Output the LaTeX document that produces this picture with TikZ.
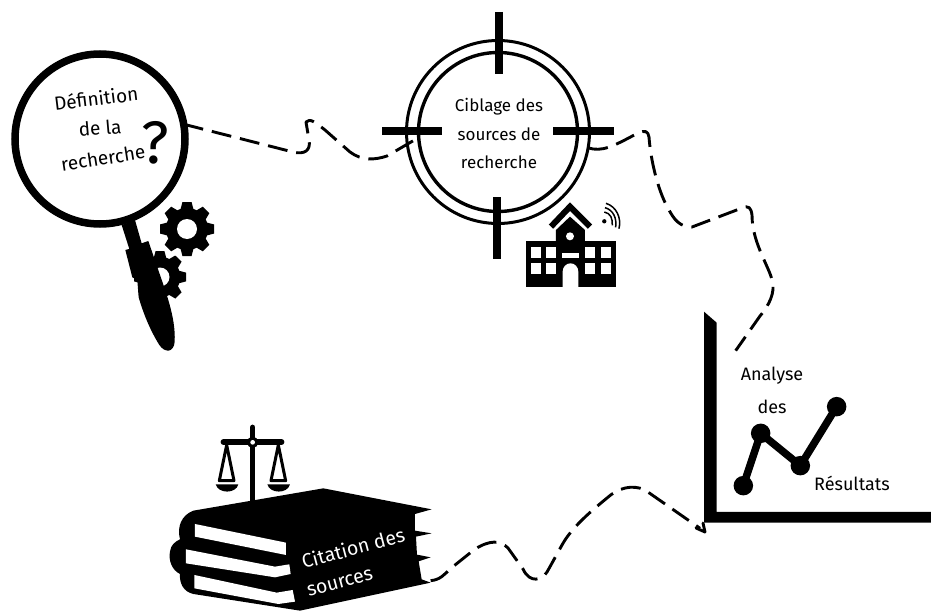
\documentclass[tikz,border=0pt]{standalone}
\usepackage{fontspec}
\setmainfont{Fira Sans}
\usetikzlibrary{calc}
\tikzset{
  link/.style={line width=2.9pt,dash pattern=on 20pt off 9pt,line join=round},
  lbl/.style={inner sep=0pt,font=\fontsize{17}{17}\selectfont,text=black},
  biglbl/.style={lbl,font=\fontsize{19}{19}\selectfont},
  chartlbl/.style={lbl,font=\fontsize{18}{18}\selectfont},
  wlbl/.style={lbl,text=white,font=\fontsize{19.5}{19.5}\selectfont},
  crosshair/.style={line width=8pt,draw=black},
  chartline/.style={line width=7.5pt,draw=black,line join=round},
  chartdot/.style={circle,fill=black,minimum size=19.5pt,inner sep=0pt},
}
\newcommand{\cogwheel}[4]{% x, y, outer radius, hole radius
  \fill[black] (#1,#2) circle ({#3*0.78});
  \foreach \a in {0,45,...,315}{
    \fill[black,shift={(#1,#2)},rotate=\a,line join=round]
      ({-#3*0.26},{#3*0.65}) -- ({-#3*0.17},{#3}) -- ({#3*0.17},{#3}) -- ({#3*0.26},{#3*0.65}) -- cycle;
  }
  \fill[white] (#1,#2) circle (#4);
}
\begin{document}
\begin{tikzpicture}[x=1pt,y=-1pt]
\useasboundingbox (0,0) rectangle (931,610);
\fill[white] (0,0) rectangle (931,610);

% ---- gears and magnifier
\cogwheel{160}{277}{26}{9.5}
\fill[white] (187,229) circle (29);
\cogwheel{187}{229}{27}{10}
\begin{scope}[shift={(0,50)},x=0.3333pt,y=-0.3333pt]
  \fill[black] (365,525) -- (405,510) -- (425,580) -- (445,573) -- (468,640)
    .. controls (495,720) and (528,800) .. (524,875)
    .. controls (522,908) and (495,910) .. (478,885)
    .. controls (450,840) and (430,790) .. (416,742)
    -- (412,690) -- (397,682) -- (376,600) -- (388,597) -- cycle;
\end{scope}
\node[circle,draw=black,line width=7.5pt,fill=white,minimum size=170pt,inner sep=0pt,outer sep=0pt] (mag) at (100,139) {};
\node[biglbl,rotate=7] (t1) at (96,98) {Définition};
\node[biglbl,rotate=5] (t2) at (100,128) {de la};
\node[biglbl,rotate=9] (t3) at (103,158) {recherche};
\node[inner sep=0pt,font=\fontsize{60}{60}\selectfont] (qm) at (155,143) {?};

% ---- target
\node[circle,draw=black,line width=3pt,minimum size=183pt,inner sep=0pt,outer sep=0pt] (ring) at (498,132) {};
\node[circle,draw=black,line width=3.4pt,minimum size=159pt,inner sep=0pt,outer sep=0pt] (inner) at (498,132) {};
\draw[crosshair] (499,12) -- (499,74);
\draw[crosshair] (382,131) -- (442,131);
\draw[crosshair] (553,131) -- (614,131);
\draw[crosshair] (497,197) -- (497,259);
\node[lbl] (t4) at (499,107) {Ciblage des};
\node[lbl] (t5) at (499,134) {sources de};
\node[lbl] (t6) at (499,162) {recherche};

% ---- school
\begin{scope}[shift={(370,30)},x=0.3333pt,y=-0.3333pt]
  \fill[white] (535,590) -- (600,515) -- (668,590) -- (668,632) -- (535,632) -- cycle;
  \fill[black] (467,632) rectangle (737,772);
  \fill[black] (558,640) -- (558,600) -- (600,560) -- (645,600) -- (645,640) -- cycle;
  \draw[black,line width=6pt] (543,590) -- (600,530) -- (660,590);
  \fill[white] (600,619) circle (12);
  \foreach \cx in {482,527,645,692}{
    \foreach \cy in {652,700}{
      \fill[white] (\cx,\cy) rectangle (\cx+31,\cy+33);
    }
  }
  \fill[white] (575,668) rectangle (628,685);
  \fill[white] (578,772) -- (578,725) arc[start angle=180,end angle=0,x radius=23.5,y radius=-25] -- (625,772) -- cycle;
  \fill[black] (703,574) circle (6.5);
  \draw[black,line width=1.5pt] (703,546) .. controls (722,550) and (728,565) .. (727,586);
  \draw[black,line width=1.5pt] (705,533) .. controls (730,540) and (741,565) .. (737,592);
  \draw[black,line width=1.5pt] (708,520) .. controls (740,530) and (755,565) .. (747,596);
\end{scope}

% ---- chart
\begin{scope}[shift={(690,300)},x=0.3333pt,y=-0.3333pt]
  \fill[black] (42,35) -- (80,68) -- (80,636) -- (723,636) -- (723,668) -- (42,668) -- cycle;
  \coordinate (p1) at (160,557);
  \coordinate (p2) at (212,400);
  \coordinate (p3) at (331,497);
  \coordinate (p4) at (440,320);
  \node[chartdot] (d1) at (p1) {};
  \node[chartdot] (d2) at (p2) {};
  \node[chartdot] (d3) at (p3) {};
  \node[chartdot] (d4) at (p4) {};
  \draw[chartline] (d1.center) -- (d2.center) -- (d3.center) -- (d4.center);
  \coordinate (chartin) at (137,152);
  \coordinate (chartfoot) at (30,685);
\end{scope}
\node[chartlbl] (t7) at (772,376) {Analyse};
\node[chartlbl] (t8) at (772,407) {des};
\node[chartlbl] (t9) at (852,483) {Résultats};

% ---- books
\begin{scope}[shift={(160,420)},x=0.3333pt,y=-0.3333pt]
  \fill[black] (100,272) -- (490,205) -- (815,268) -- (765,282) -- (765,332) -- (815,340) -- (768,350)
    -- (771,404) -- (812,412) -- (776,424) -- (785,478) -- (812,488) -- (420,572) -- (100,522)
    .. controls (70,515) and (58,490) .. (60,462)
    .. controls (35,450) and (25,420) .. (30,395)
    .. controls (32,375) and (45,365) .. (60,358)
    .. controls (50,320) and (65,285) .. (100,272) -- cycle;
  \fill[white] (105,312) -- (378,368) -- (378,405) -- (105,350) -- cycle;
  \fill[white] (78,388) -- (345,440) -- (388,433) -- (392,462) -- (345,472) -- (78,430) -- cycle;
  \fill[white] (103,465) -- (350,518) -- (398,510) -- (405,545) -- (355,552) -- (103,505) -- cycle;
  % balance
  \draw[black,line width=5.5pt,line cap=round] (278,22) -- (278,250);
  \draw[black,line width=5.5pt,line cap=round] (190,66) -- (365,66);
  \fill[black] (278,67) circle (17);
  \fill[white] (278,67) circle (7);
  \draw[black,line width=3pt,line join=round] (200,75) -- (178,182) -- (222,182) -- cycle;
  \draw[black,line width=3pt,line join=round] (355,75) -- (333,182) -- (377,182) -- cycle;
  \fill[black] (167,193) -- (235,193) .. controls (228,222) and (175,222) .. (167,193) -- cycle;
  \fill[black] (322,193) -- (390,193) .. controls (383,222) and (330,222) .. (322,193) -- cycle;
  \coordinate (bookout) at (812,482);
\end{scope}
\node[wlbl,rotate=15] (t10) at (353,548) {Citation des};
\node[wlbl,rotate=15] (t11) at (340,583) {sources};

% ---- connectors
\draw[link] (mag.10) -- (293,152)
  .. controls (305,155) and (311,150) .. (309,140)
  -- (306,122) .. controls (310,118) and (315,122) .. (325,130)
  -- (350,152) .. controls (362,161) and (375,160) .. (387,156)
  -- (inner.184);
\draw[link] (ring.-10) .. controls (602,152) and (612,147) .. (638,133)
  .. controls (645,130) and (648,131) .. (649,137)
  .. controls (651,165) and (660,195) .. (668,208)
  .. controls (674,220) and (680,227) .. (692,227)
  -- (742,208) .. controls (749,205) and (751,208) .. (752,215)
  .. controls (752,245) and (772,270) .. (773,285)
  .. controls (774,298) and (765,310) .. (760,316)
  -- (chartin);
\draw[link] (bookout) .. controls (440,580) and (445,574) .. (450,569)
  -- (475,549) .. controls (490,540) and (500,540) .. (508,548)
  -- (523,569) .. controls (530,584) and (542,580) .. (547,572)
  .. controls (555,558) and (560,548) .. (565,540)
  .. controls (575,525) and (590,512) .. (607,498)
  .. controls (618,488) and (632,484) .. (645,490)
  -- (chartfoot);
\draw[black,line width=2.9pt,line cap=round,line join=round] (696,528) -- (705,532) -- (703,523);
\end{tikzpicture}
\end{document}
